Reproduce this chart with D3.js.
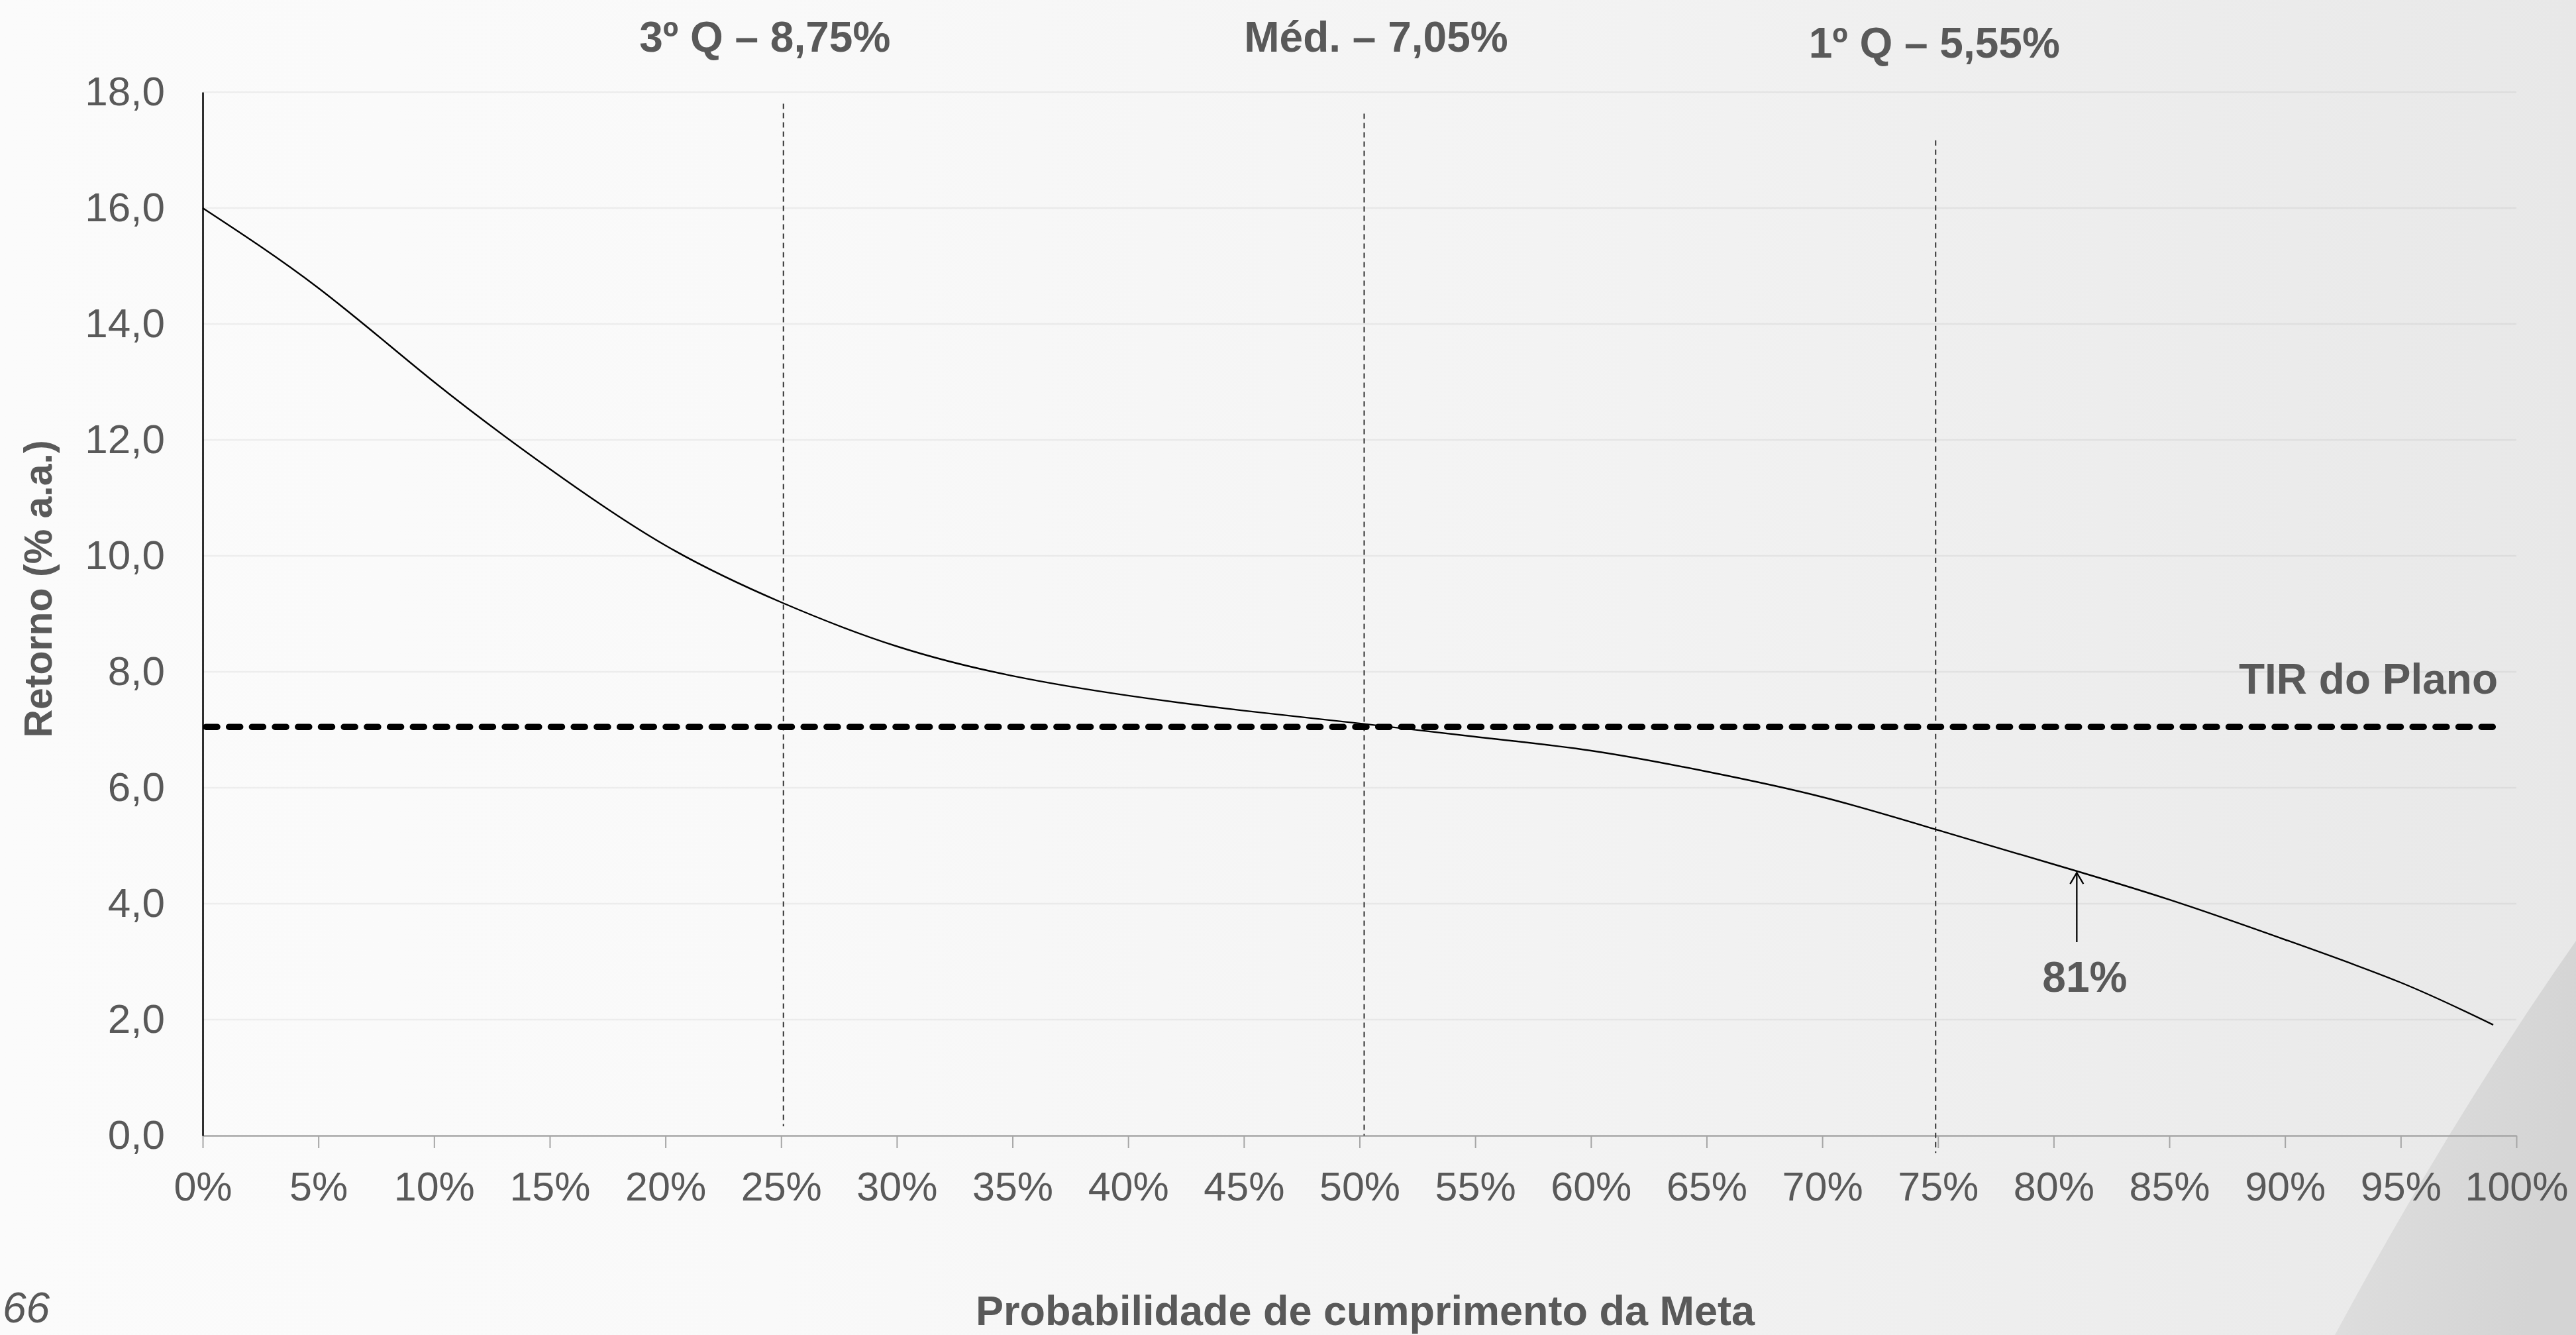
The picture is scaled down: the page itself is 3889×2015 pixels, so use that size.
<!DOCTYPE html>
<html>
<head>
<meta charset="utf-8">
<script src="https://cdn.jsdelivr.net/npm/d3@7"></script>
<style>
  html, body { margin: 0; padding: 0; overflow: hidden; background: #f6f6f6; }
  svg { display: block; }
  text { font-family: "Liberation Sans", Arial, sans-serif; fill: #595959; }
</style>
</head>
<body>
<script>
// ---------------- DATA ----------------
const probs    = [0, 5, 10, 15, 20, 25, 30, 35, 40, 45, 50, 55, 60, 65, 70, 75, 80, 85, 90, 95, 99];
const retornos = [16.0, 14.62, 13.0, 11.5, 10.18, 9.2, 8.44, 7.93, 7.59, 7.33, 7.11, 6.88, 6.64, 6.28, 5.84, 5.27, 4.68, 4.07, 3.38, 2.64, 1.91];

const xTickValues = [0, 5, 10, 15, 20, 25, 30, 35, 40, 45, 50, 55, 60, 65, 70, 75, 80, 85, 90, 95, 100];
const yTickValues = [0, 2, 4, 6, 8, 10, 12, 14, 16, 18];

const tirValue = 7.05;
const tirLabel = "TIR do Plano";

const quartileLabels = ["3º Q – 8,75%", "Méd. – 7,05%", "1º Q – 5,55%"];
const quartileProbs  = [25.1, 50.2, 74.9];

const markerProb  = 81;
const markerLabel = "81%";

const xTitle = "Probabilidade de cumprimento da Meta";
const yTitle = "Retorno (% a.a.)";
const pageNumber = "66";

// ---------------- LAYOUT ----------------
const W = 3889, H = 2015;
const plot = { left: 306, right: 3799, top: 139, bottom: 1714 };
const quartileLineTop    = [17.8, 17.63, 17.17];   // in data units
const quartileLineBottom = [0.16, 0.0, -0.3];
const quartileLabelDx    = [-28, 18, -2];
const quartileLabelY     = [78, 78, 87];

const x = d3.scaleLinear().domain([0, 100]).range([plot.left, plot.right]);
const y = d3.scaleLinear().domain([0, 18]).range([plot.bottom, plot.top]);

const locale = d3.formatLocale({ decimal: ",", thousands: ".", grouping: [3], currency: ["R$", ""] });
const fmt1 = locale.format(".1f");

const svg = d3.select("body").append("svg")
  .attr("width", W).attr("height", H)
  .attr("viewBox", `0 0 ${W} ${H}`);

// ---------------- BACKGROUND ----------------
const defs = svg.append("defs");
const bg = defs.append("linearGradient").attr("id", "bg").attr("x1", 0).attr("x2", 1).attr("y1", 0).attr("y2", 0);
[[0, "#fbfbfb"], [0.3, "#f9f9f9"], [0.6, "#f3f3f3"], [1, "#e8e8e8"]]
  .forEach(([o, c]) => bg.append("stop").attr("offset", o).attr("stop-color", c));
const sw = defs.append("linearGradient").attr("id", "sw").attr("x1", 0).attr("x2", 1).attr("y1", 0).attr("y2", 0.3);
[[0, "#e3e3e3"], [0.35, "#dcdcdc"], [1, "#d4d4d4"]]
  .forEach(([o, c]) => sw.append("stop").attr("offset", o).attr("stop-color", c));

svg.append("rect").attr("width", W).attr("height", H).attr("fill", "url(#bg)");
svg.append("path")
  .attr("d", `M${W},1420 Q3700,1690 3525,${H} L${W},${H} Z`)
  .attr("fill", "url(#sw)");

// ---------------- GRIDLINES ----------------
svg.append("g").selectAll("line")
  .data(yTickValues.filter(v => v > 0))
  .join("line")
  .attr("x1", x(0)).attr("x2", x(100))
  .attr("y1", d => y(d)).attr("y2", d => y(d))
  .attr("stroke", "#000").attr("stroke-opacity", 0.05).attr("stroke-width", 2.5);

// ---------------- AXES ----------------
const xAxis = svg.append("g")
  .attr("transform", `translate(0,${y(0)})`)
  .call(d3.axisBottom(x).tickValues(xTickValues).tickSize(19).tickSizeOuter(0).tickPadding(36)
        .tickFormat(d => d + "%"));
xAxis.select(".domain").attr("stroke", "#a6a6a6").attr("stroke-width", 2.5);
xAxis.selectAll(".tick line").attr("stroke", "#a6a6a6").attr("stroke-width", 2);
xAxis.selectAll(".tick text")
  .attr("font-size", 61).attr("fill", "#595959")
  .style("font-family", '"Liberation Sans", Arial, sans-serif');

const yAxis = svg.append("g")
  .attr("transform", `translate(${x(0)},0)`)
  .call(d3.axisLeft(y).tickValues(yTickValues).tickSize(0).tickSizeOuter(0).tickPadding(57)
        .tickFormat(fmt1));
yAxis.select(".domain").attr("stroke", "#000").attr("stroke-width", 2.5);
yAxis.selectAll(".tick text")
  .attr("font-size", 62).attr("fill", "#595959")
  .style("font-family", '"Liberation Sans", Arial, sans-serif');

// ---------------- QUARTILE LINES ----------------
svg.append("g").selectAll("line")
  .data(quartileProbs)
  .join("line")
  .attr("x1", d => x(d)).attr("x2", d => x(d))
  .attr("y1", (d, i) => y(quartileLineTop[i]))
  .attr("y2", (d, i) => y(quartileLineBottom[i]))
  .attr("stroke", "#333").attr("stroke-width", 2)
  .attr("stroke-dasharray", "8,6");

// ---------------- CURVE ----------------
const series = probs.map((p, i) => ({ p, v: retornos[i] }));
svg.append("path")
  .datum(series)
  .attr("fill", "none")
  .attr("stroke", "#000")
  .attr("stroke-width", 2.4)
  .attr("d", d3.line().x(d => x(d.p)).y(d => y(d.v)).curve(d3.curveNatural));

// ---------------- TIR LINE ----------------
svg.append("line")
  .attr("x1", x(0) + 5).attr("x2", x(99.0))
  .attr("y1", y(tirValue)).attr("y2", y(tirValue))
  .attr("stroke", "#000").attr("stroke-width", 9.5)
  .attr("stroke-linecap", "round")
  .attr("stroke-dasharray", "17,17.7");

svg.append("text")
  .attr("x", x(99.2)).attr("y", y(tirValue) - 50)
  .attr("text-anchor", "end")
  .attr("font-size", 64).attr("font-weight", "bold")
  .text(tirLabel);

// ---------------- QUARTILE LABELS ----------------
svg.append("g").selectAll("text")
  .data(quartileLabels)
  .join("text")
  .attr("x", (d, i) => x(quartileProbs[i]) + quartileLabelDx[i])
  .attr("y", (d, i) => quartileLabelY[i])
  .attr("text-anchor", "middle")
  .attr("font-size", 64).attr("font-weight", "bold")
  .text(d => d);

// ---------------- 81% ARROW ----------------
const bisect = d3.bisector(d => d.p).left;
const k = bisect(series, markerProb);
const a = series[k - 1], b = series[k];
const tipV = a.v + (b.v - a.v) * (markerProb - a.p) / (b.p - a.p);
const ax = x(markerProb), tipY = y(tipV) + 2;
svg.append("line")
  .attr("x1", ax).attr("x2", ax)
  .attr("y1", tipY).attr("y2", 1422)
  .attr("stroke", "#000").attr("stroke-width", 2.3);
svg.append("path")
  .attr("d", `M${ax - 10},${tipY + 17} L${ax},${tipY} L${ax + 10},${tipY + 17}`)
  .attr("fill", "none").attr("stroke", "#000").attr("stroke-width", 2.3);
svg.append("text")
  .attr("x", ax + 12).attr("y", 1497)
  .attr("text-anchor", "middle")
  .attr("font-size", 64).attr("font-weight", "bold")
  .text(markerLabel);

// ---------------- TITLES ----------------
svg.append("text")
  .attr("transform", "translate(78,889) rotate(-90)")
  .attr("text-anchor", "middle")
  .attr("font-size", 59).attr("font-weight", "bold")
  .text(yTitle);

svg.append("text")
  .attr("x", 2061).attr("y", 2000)
  .attr("text-anchor", "middle")
  .attr("font-size", 63).attr("font-weight", "bold")
  .text(xTitle);

svg.append("text")
  .attr("x", 4).attr("y", 1996)
  .attr("text-anchor", "start")
  .attr("font-size", 64).attr("font-style", "italic")
  .text(pageNumber);
</script>
</body>
</html>
